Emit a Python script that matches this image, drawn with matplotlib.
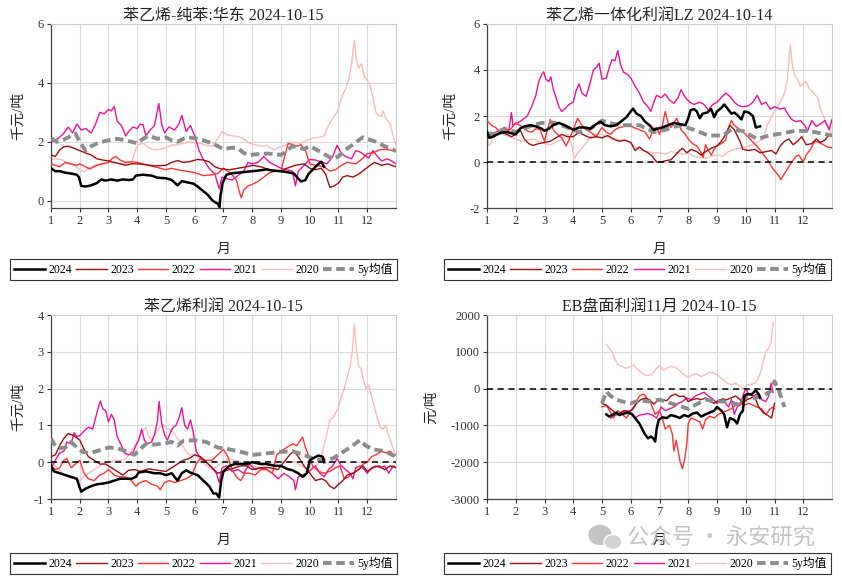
import matplotlib
matplotlib.use("Agg")
import matplotlib.pyplot as plt
from matplotlib.patches import Ellipse

plt.rcParams['font.family'] = ['Liberation Serif', 'Noto Sans CJK SC']
plt.rcParams['axes.unicode_minus'] = False

# ---------------- data (x = month position, y = value) ----------------
years = ["2024", "2023", "2022", "2021", "2020", "5y均值"]
month_ticks = list(range(1, 13))

# Panel 1: 苯乙烯-纯苯:华东 (千元/吨)
p1_2024 = [(1.0,1.10),(1.15,1.0),(1.3,1.0),(1.5,0.95),(1.7,0.92),(1.9,0.88),(1.97,0.8),(2.05,0.5),(2.2,0.48),(2.4,0.52),(2.6,0.6),(2.75,0.72),(2.9,0.68),(3.1,0.72),(3.3,0.68),(3.5,0.72),(3.7,0.7),(3.85,0.72),(3.95,0.85),(4.2,0.88),(4.5,0.85),(4.7,0.78),(5.0,0.76),(5.2,0.7),(5.4,0.52),(5.55,0.66),(5.75,0.62),(5.95,0.58),(6.1,0.48),(6.3,0.32),(6.45,0.2),(6.6,0.02),(6.7,-0.05),(6.8,-0.1),(6.86,-0.22),(6.9,0.2),(6.97,0.6),(7.1,0.88),(7.3,0.93),(7.5,0.95),(7.7,0.97),(8.0,1.0),(8.2,1.02),(8.5,1.06),(8.7,1.02),(9.0,1.0),(9.2,0.97),(9.45,0.92),(9.6,0.75),(9.7,0.65),(9.85,0.7),(9.95,0.9),(10.1,1.05),(10.25,1.2),(10.4,1.32),(10.5,1.15)]
p1_2023 = [(1.0,1.55),(1.15,1.5),(1.3,1.72),(1.45,1.83),(1.6,1.85),(1.8,1.78),(2.0,1.7),(2.2,1.62),(2.4,1.55),(2.6,1.42),(2.8,1.38),(3.0,1.35),(3.2,1.3),(3.4,1.25),(3.6,1.2),(3.8,1.25),(4.0,1.25),(4.3,1.22),(4.6,1.18),(5.0,1.2),(5.2,1.3),(5.4,1.36),(5.6,1.3),(5.8,1.32),(6.1,1.4),(6.3,1.38),(6.5,1.32),(6.7,1.15),(6.9,1.08),(7.2,1.05),(7.5,1.1),(7.8,1.15),(8.0,1.2),(8.3,1.15),(8.6,1.05),(9.0,1.0),(9.2,1.1),(9.5,1.2),(9.8,1.25),(10.0,1.1),(10.2,1.05),(10.4,1.1),(10.55,0.9),(10.7,0.45),(10.85,0.5),(11.0,0.6),(11.15,0.8),(11.3,0.85),(11.5,0.8),(11.7,0.9),(11.9,1.05),(12.1,1.2),(12.25,1.3),(12.5,1.2),(12.7,1.25),(12.85,1.2),(13.0,1.15)]
p1_2022 = [(1.0,1.25),(1.15,1.2),(1.3,1.15),(1.5,1.3),(1.7,1.25),(1.9,1.2),(2.0,1.25),(2.2,1.15),(2.35,1.08),(2.6,1.2),(2.8,1.25),(3.0,1.3),(3.15,1.45),(3.25,1.5),(3.4,1.38),(3.6,1.3),(3.8,1.32),(4.0,1.3),(4.3,1.22),(4.6,1.15),(4.8,1.1),(5.0,1.05),(5.2,1.1),(5.4,1.05),(5.7,1.0),(6.0,0.95),(6.3,0.85),(6.6,0.88),(6.8,0.92),(7.0,1.1),(7.15,1.0),(7.3,0.88),(7.45,0.7),(7.55,0.3),(7.62,0.1),(7.7,0.35),(7.85,0.5),(8.0,0.55),(8.2,0.65),(8.4,0.8),(8.6,0.95),(8.8,1.0),(9.0,1.0),(9.1,1.4),(9.25,1.95),(9.4,1.9),(9.55,1.85),(9.7,1.9),(9.85,1.7),(10.0,1.25),(10.2,1.2),(10.5,1.15),(10.7,1.0),(10.9,1.05),(11.1,1.2),(11.3,1.3),(11.6,1.25),(11.8,1.4),(12.0,1.6),(12.2,1.62),(12.4,1.72),(12.6,1.75),(12.8,1.72),(13.0,1.68)]
p1_2021 = [(1.0,2.0),(1.15,2.05),(1.3,2.15),(1.45,2.3),(1.6,2.5),(1.75,2.3),(1.9,2.6),(2.05,2.4),(2.2,2.45),(2.4,2.3),(2.55,2.6),(2.7,3.0),(2.85,2.95),(3.0,3.1),(3.1,3.05),(3.2,3.2),(3.3,2.7),(3.45,2.55),(3.6,2.2),(3.7,2.35),(3.85,2.5),(4.0,2.45),(4.1,2.6),(4.2,2.58),(4.3,2.2),(4.45,2.4),(4.6,2.55),(4.75,3.3),(4.85,2.6),(4.95,2.3),(5.1,2.5),(5.3,2.4),(5.45,2.6),(5.55,2.9),(5.7,2.35),(5.85,2.55),(6.0,2.2),(6.15,1.7),(6.3,1.4),(6.5,1.1),(6.7,0.9),(6.85,0.4),(6.95,0.8),(7.1,0.75),(7.3,0.7),(7.5,0.85),(7.7,1.0),(7.85,1.3),(8.0,1.25),(8.2,1.3),(8.4,1.5),(8.6,1.3),(8.8,1.2),(9.0,1.1),(9.2,1.05),(9.4,1.0),(9.5,0.5),(9.6,1.0),(9.8,1.2),(10.0,1.4),(10.2,1.38),(10.4,1.32),(10.6,1.25),(10.8,1.5),(10.95,1.88),(11.1,1.6),(11.25,1.5),(11.45,1.42),(11.6,1.7),(11.75,1.65),(11.9,1.55),(12.05,1.45),(12.2,1.7),(12.35,1.5),(12.5,1.35),(12.7,1.42),(12.85,1.35),(13.0,1.25)]
p1_2020 = [(1.0,1.4),(1.2,1.42),(1.4,1.38),(1.6,1.25),(1.8,1.2),(2.0,1.05),(2.15,0.98),(2.3,1.1),(2.5,1.2),(2.7,1.25),(3.0,1.3),(3.3,1.28),(3.6,1.25),(3.8,1.3),(3.95,1.75),(4.05,1.9),(4.2,1.95),(4.4,1.8),(4.6,1.72),(4.8,1.75),(5.0,1.8),(5.2,1.88),(5.4,1.9),(5.6,1.95),(5.8,2.0),(6.0,1.98),(6.2,1.95),(6.4,1.88),(6.6,1.85),(6.8,2.1),(6.95,2.35),(7.1,2.25),(7.3,2.2),(7.5,2.18),(7.7,2.1),(7.9,1.95),(8.1,1.9),(8.3,1.85),(8.5,1.88),(8.75,1.72),(8.9,1.8),(9.1,1.85),(9.3,1.95),(9.5,1.98),(9.7,1.95),(9.9,2.05),(10.1,2.12),(10.3,2.15),(10.5,2.2),(10.65,2.55),(10.8,2.8),(10.95,3.0),(11.05,3.3),(11.15,3.6),(11.25,3.8),(11.35,4.1),(11.45,4.6),(11.55,5.45),(11.62,4.8),(11.7,4.5),(11.8,4.65),(11.9,4.2),(12.0,4.1),(12.1,3.9),(12.2,3.5),(12.3,3.0),(12.4,2.9),(12.5,2.85),(12.55,3.05),(12.65,2.8),(12.8,2.6),(12.9,2.2),(13.0,1.9)]
p1_5y = [(1.0,2.12),(1.2,2.0),(1.4,2.05),(1.6,2.15),(1.85,2.28),(2.0,2.0),(2.2,1.7),(2.4,1.85),(2.7,1.98),(3.0,2.05),(3.3,2.1),(3.6,2.05),(3.8,2.0),(4.0,1.95),(4.2,2.1),(4.4,2.2),(4.7,2.1),(5.0,2.15),(5.2,2.05),(5.4,2.0),(5.7,2.15),(6.0,2.12),(6.3,2.05),(6.6,1.95),(6.8,1.85),(7.0,1.75),(7.3,1.8),(7.5,1.78),(7.7,1.62),(7.9,1.55),(8.2,1.58),(8.5,1.6),(8.8,1.58),(9.0,1.55),(9.2,1.7),(9.4,1.85),(9.6,1.8),(9.8,1.75),(10.0,1.85),(10.2,1.75),(10.5,1.58),(10.8,1.42),(11.0,1.5),(11.2,1.7),(11.5,1.9),(11.7,2.05),(11.85,2.15),(12.0,2.1),(12.3,2.0),(12.6,1.85),(12.8,1.78),(13.0,1.68)]

# Panel 2: 苯乙烯一体化利润LZ (千元/吨)
p2_2024 = [(1.0,1.3),(1.08,1.05),(1.2,1.1),(1.35,1.2),(1.5,1.28),(1.7,1.3),(1.85,1.25),(2.0,1.2),(2.15,1.45),(2.3,1.55),(2.5,1.6),(2.7,1.55),(2.9,1.45),(3.0,1.35),(3.15,1.45),(3.3,1.6),(3.5,1.7),(3.7,1.6),(3.85,1.5),(4.0,1.4),(4.2,1.5),(4.4,1.5),(4.6,1.45),(4.8,1.65),(4.95,1.75),(5.1,1.6),(5.3,1.55),(5.5,1.6),(5.7,1.8),(5.85,1.95),(6.0,2.2),(6.08,2.32),(6.2,2.1),(6.35,2.0),(6.5,1.75),(6.65,1.6),(6.8,1.4),(6.95,1.45),(7.1,1.5),(7.3,1.6),(7.5,1.7),(7.7,1.65),(7.9,1.6),(8.0,1.9),(8.08,2.25),(8.2,2.3),(8.3,2.2),(8.4,1.9),(8.5,2.1),(8.65,2.15),(8.8,2.3),(8.9,1.95),(9.0,2.2),(9.15,2.35),(9.25,2.5),(9.35,2.35),(9.5,2.1),(9.6,2.15),(9.7,2.05),(9.85,1.85),(9.95,2.2),(10.1,2.15),(10.25,2.0),(10.35,1.5),(10.5,1.55)]
p2_2023 = [(1.0,1.3),(1.15,1.1),(1.3,1.15),(1.5,1.3),(1.7,1.2),(1.85,1.1),(2.0,1.2),(2.15,1.4),(2.3,1.0),(2.45,0.8),(2.6,0.72),(2.8,0.8),(3.0,0.85),(3.2,0.9),(3.4,1.05),(3.6,1.2),(3.8,1.1),(4.0,1.1),(4.2,1.3),(4.4,1.15),(4.6,1.05),(4.8,1.1),(5.0,1.05),(5.2,1.15),(5.4,1.0),(5.6,0.9),(5.8,0.95),(6.0,0.85),(6.15,0.5),(6.3,0.65),(6.45,0.5),(6.6,0.4),(6.75,0.25),(6.9,0.0),(7.05,0.0),(7.2,0.05),(7.4,0.1),(7.55,0.3),(7.7,0.5),(7.8,0.6),(7.95,0.4),(8.1,0.55),(8.3,0.45),(8.45,0.3),(8.6,0.45),(8.8,0.6),(9.0,0.7),(9.15,0.9),(9.3,1.2),(9.45,1.6),(9.6,1.4),(9.7,1.15),(9.8,0.9),(9.9,0.55),(10.1,0.5),(10.3,0.55),(10.5,0.4),(10.7,0.45),(10.9,0.5),(11.05,0.35),(11.2,0.7),(11.35,0.9),(11.5,1.0),(11.65,0.75),(11.8,0.9),(11.95,1.1),(12.1,0.75),(12.3,0.8),(12.45,1.0),(12.6,0.85),(12.75,0.95),(12.85,1.1),(13.0,1.15)]
p2_2022 = [(1.0,1.8),(1.15,1.6),(1.3,1.5),(1.45,1.3),(1.6,1.45),(1.8,1.4),(2.0,1.7),(2.2,1.55),(2.4,1.35),(2.55,1.3),(2.7,1.45),(2.85,1.4),(3.0,0.9),(3.1,1.4),(3.2,1.85),(3.3,1.4),(3.45,1.2),(3.6,1.05),(3.75,0.7),(3.9,1.1),(4.0,1.4),(4.15,1.9),(4.3,1.6),(4.45,1.4),(4.6,1.3),(4.8,1.1),(5.0,1.5),(5.15,1.3),(5.3,1.2),(5.45,1.4),(5.6,1.5),(5.8,1.55),(5.95,1.6),(6.1,1.5),(6.3,1.4),(6.5,1.3),(6.65,1.0),(6.8,1.45),(6.9,1.5),(7.0,1.2),(7.1,1.6),(7.2,2.2),(7.3,1.7),(7.4,1.5),(7.5,1.7),(7.6,1.9),(7.75,1.4),(7.9,1.2),(8.0,1.0),(8.15,0.8),(8.3,0.7),(8.45,0.4),(8.52,0.2),(8.6,0.75),(8.7,0.5),(8.8,0.3),(8.9,0.55),(9.0,0.7),(9.15,0.8),(9.3,0.95),(9.4,1.5),(9.5,1.8),(9.6,1.6),(9.75,1.45),(9.9,1.3),(10.0,1.2),(10.15,1.0),(10.3,0.8),(10.45,0.6),(10.6,0.35),(10.75,0.1),(10.85,-0.1),(10.95,-0.3),(11.05,-0.45),(11.15,-0.6),(11.22,-0.77),(11.3,-0.6),(11.4,-0.4),(11.5,-0.2),(11.6,0.0),(11.75,0.25),(11.85,0.3),(11.95,0.1),(12.0,0.0),(12.1,0.3),(12.25,0.55),(12.4,0.9),(12.55,0.85),(12.7,0.75),(12.85,0.65),(13.0,0.62)]
p2_2021 = [(1.0,1.3),(1.2,1.25),(1.4,1.35),(1.6,1.5),(1.75,1.3),(1.85,2.15),(1.9,1.6),(2.05,1.7),(2.2,1.8),(2.4,2.0),(2.55,2.4),(2.7,2.9),(2.8,3.5),(2.9,3.8),(2.97,3.92),(3.05,3.6),(3.15,3.5),(3.22,3.7),(3.3,3.2),(3.4,2.8),(3.5,2.4),(3.6,2.2),(3.7,2.3),(3.85,2.5),(4.0,2.6),(4.1,3.1),(4.2,3.4),(4.3,3.0),(4.45,2.85),(4.6,3.5),(4.7,4.0),(4.8,4.1),(4.9,4.3),(5.0,3.6),(5.15,3.65),(5.25,4.1),(5.35,4.45),(5.45,4.4),(5.55,4.85),(5.65,4.2),(5.75,3.9),(5.9,3.8),(6.0,3.65),(6.15,3.3),(6.3,3.0),(6.45,2.6),(6.6,2.4),(6.7,2.2),(6.8,2.6),(6.9,2.9),(7.05,2.8),(7.2,2.95),(7.35,2.7),(7.5,2.55),(7.65,2.8),(7.75,3.15),(7.9,2.8),(8.05,2.6),(8.2,2.5),(8.4,2.6),(8.55,2.5),(8.7,2.25),(8.85,2.5),(9.0,2.6),(9.15,2.8),(9.3,3.0),(9.45,2.85),(9.6,2.6),(9.75,2.45),(9.9,2.4),(10.1,2.45),(10.25,2.6),(10.4,2.9),(10.55,2.5),(10.7,2.6),(10.85,2.3),(11.0,2.4),(11.2,2.3),(11.35,2.35),(11.45,2.1),(11.6,1.85),(11.75,1.75),(11.9,1.8),(12.05,1.6),(12.15,1.35),(12.3,1.8),(12.45,1.55),(12.6,1.65),(12.75,1.8),(12.9,1.4),(13.0,1.85)]
p2_2020 = [(1.0,0.95),(1.08,0.7),(1.2,1.0),(1.35,1.2),(1.55,1.2),(1.8,1.1),(2.0,1.0),(2.2,0.9),(2.4,0.95),(2.6,1.0),(2.8,0.9),(3.0,0.8),(3.2,0.75),(3.4,0.85),(3.6,1.0),(3.8,1.2),(3.95,0.7),(4.05,0.15),(4.15,0.4),(4.3,0.6),(4.45,0.85),(4.6,1.1),(4.8,1.2),(5.0,1.2),(5.2,1.1),(5.4,1.0),(5.6,0.95),(5.8,0.95),(6.0,0.85),(6.2,0.6),(6.4,0.5),(6.6,0.45),(6.8,0.4),(7.0,0.4),(7.2,0.35),(7.4,0.45),(7.6,0.4),(7.8,0.35),(8.0,0.4),(8.2,0.25),(8.4,0.2),(8.6,0.15),(8.8,0.25),(9.0,0.3),(9.2,0.25),(9.4,0.45),(9.6,0.55),(9.8,0.6),(10.0,0.65),(10.2,0.75),(10.4,0.85),(10.6,1.0),(10.75,1.6),(10.9,2.0),(11.05,2.3),(11.2,2.6),(11.35,3.0),(11.45,3.6),(11.55,5.1),(11.62,4.2),(11.7,3.8),(11.8,3.6),(11.9,3.3),(12.0,3.4),(12.1,3.5),(12.2,3.2),(12.35,3.0),(12.5,2.8),(12.6,2.3),(12.7,2.0),(12.8,1.7),(12.9,1.5),(13.0,1.2)]
p2_5y = [(1.0,1.25),(1.3,1.2),(1.6,1.45),(2.0,1.3),(2.3,1.45),(2.6,1.6),(2.9,1.7),(3.3,1.72),(3.7,1.55),(4.0,1.4),(4.2,1.3),(4.6,1.45),(5.0,1.8),(5.4,1.65),(5.8,1.6),(6.3,1.6),(6.8,1.3),(7.2,1.4),(7.7,1.6),(8.2,1.4),(8.7,1.15),(9.2,1.15),(9.5,1.4),(9.9,1.35),(10.4,1.0),(10.8,1.15),(11.3,1.25),(11.7,1.35),(12.2,1.35),(12.6,1.25),(13.0,1.15)]

# Panel 3: 苯乙烯利润 (千元/吨)
p3_2024 = [(1.0,-0.1),(1.1,-0.25),(1.3,-0.3),(1.5,-0.35),(1.7,-0.4),(1.9,-0.45),(1.98,-0.65),(2.05,-0.8),(2.2,-0.72),(2.4,-0.65),(2.6,-0.6),(2.8,-0.58),(3.0,-0.55),(3.2,-0.5),(3.4,-0.45),(3.6,-0.45),(3.8,-0.45),(3.95,-0.4),(4.05,-0.28),(4.3,-0.25),(4.6,-0.3),(4.8,-0.3),(5.0,-0.35),(5.2,-0.3),(5.4,-0.5),(5.55,-0.3),(5.7,-0.22),(5.9,-0.3),(6.1,-0.35),(6.3,-0.5),(6.5,-0.65),(6.65,-0.85),(6.75,-0.85),(6.85,-0.96),(6.92,-0.5),(7.0,-0.25),(7.2,-0.1),(7.4,-0.05),(7.6,-0.05),(7.8,-0.05),(8.0,0.0),(8.3,-0.05),(8.5,-0.05),(8.8,-0.1),(9.0,-0.1),(9.2,-0.18),(9.4,-0.22),(9.6,-0.3),(9.75,-0.4),(9.9,-0.3),(10.0,0.05),(10.15,0.12),(10.3,0.18),(10.45,0.15),(10.5,0.0)]
p3_2023 = [(1.0,0.15),(1.15,0.2),(1.3,0.45),(1.45,0.65),(1.6,0.78),(1.8,0.72),(2.0,0.6),(2.15,0.35),(2.3,0.15),(2.5,0.05),(2.7,-0.05),(2.9,-0.05),(3.1,-0.15),(3.3,-0.25),(3.5,-0.35),(3.7,-0.22),(3.9,-0.2),(4.1,-0.25),(4.4,-0.18),(4.7,-0.22),(5.0,-0.25),(5.2,-0.15),(5.4,-0.05),(5.6,0.05),(5.8,0.1),(6.0,0.2),(6.2,0.15),(6.4,0.0),(6.6,-0.15),(6.8,-0.3),(7.0,-0.25),(7.2,-0.2),(7.4,-0.15),(7.6,-0.1),(7.8,-0.1),(8.0,-0.2),(8.3,-0.15),(8.6,-0.15),(8.9,-0.2),(9.1,0.0),(9.3,0.2),(9.45,0.3),(9.6,0.15),(9.8,-0.1),(10.0,-0.3),(10.2,-0.5),(10.4,-0.45),(10.55,-0.5),(10.7,-0.65),(10.85,-0.72),(11.0,-0.6),(11.15,-0.5),(11.3,-0.35),(11.5,-0.3),(11.7,-0.2),(11.85,-0.1),(12.0,-0.25),(12.2,-0.15),(12.4,-0.1),(12.6,-0.2),(12.8,-0.1),(13.0,-0.15)]
p3_2022 = [(1.0,-0.1),(1.15,-0.2),(1.3,-0.15),(1.45,0.05),(1.55,0.1),(1.7,-0.15),(1.85,-0.05),(2.0,0.05),(2.15,-0.3),(2.3,-0.45),(2.5,-0.5),(2.7,-0.35),(2.85,-0.3),(3.0,-0.2),(3.2,-0.35),(3.4,-0.4),(3.6,-0.4),(3.8,-0.5),(3.95,-0.65),(4.1,-0.55),(4.3,-0.5),(4.5,-0.6),(4.7,-0.65),(4.8,-0.75),(4.95,-0.55),(5.1,-0.5),(5.3,-0.55),(5.5,-0.5),(5.7,-0.45),(5.9,-0.35),(6.05,-0.05),(6.2,0.1),(6.4,0.05),(6.6,0.05),(6.8,0.2),(7.0,0.35),(7.15,0.15),(7.3,-0.2),(7.45,-0.4),(7.6,-0.5),(7.75,-0.3),(7.9,-0.3),(8.1,-0.35),(8.3,-0.2),(8.5,-0.2),(8.7,-0.3),(8.85,0.2),(9.0,0.3),(9.2,0.4),(9.4,0.5),(9.55,0.45),(9.75,0.68),(9.85,0.4),(9.95,0.2),(10.1,-0.1),(10.3,-0.25),(10.5,-0.3),(10.7,-0.25),(10.9,-0.15),(11.05,-0.1),(11.2,-0.45),(11.35,-0.4),(11.5,-0.3),(11.7,-0.2),(11.85,-0.05),(12.0,0.0),(12.15,0.15),(12.3,0.2),(12.5,0.3),(12.65,0.25),(12.8,0.3),(12.9,0.2),(13.0,0.2)]
p3_2021 = [(1.05,-0.1),(1.15,0.05),(1.3,0.25),(1.45,0.3),(1.55,0.55),(1.7,0.5),(1.8,0.8),(1.9,0.7),(2.0,0.72),(2.15,0.85),(2.3,0.95),(2.45,0.9),(2.55,1.2),(2.65,1.5),(2.72,1.66),(2.8,1.45),(2.9,1.4),(3.0,1.1),(3.1,1.3),(3.2,1.15),(3.3,0.7),(3.45,0.45),(3.55,0.25),(3.7,0.2),(3.85,0.25),(3.95,0.45),(4.05,0.6),(4.15,0.9),(4.25,0.6),(4.35,0.5),(4.5,0.55),(4.6,0.75),(4.7,1.1),(4.76,1.65),(4.85,1.05),(4.95,0.75),(5.05,0.6),(5.15,0.8),(5.25,0.95),(5.35,1.0),(5.45,1.2),(5.55,1.48),(5.65,1.0),(5.75,0.9),(5.85,1.15),(5.95,0.8),(6.05,0.3),(6.2,0.1),(6.4,0.0),(6.6,-0.15),(6.75,-0.3),(6.85,-0.55),(6.95,-0.15),(7.1,-0.1),(7.3,-0.25),(7.5,-0.2),(7.7,-0.3),(7.9,-0.05),(8.1,-0.2),(8.3,-0.15),(8.5,-0.2),(8.7,-0.3),(8.9,-0.45),(9.1,-0.3),(9.3,-0.4),(9.45,-0.5),(9.5,-0.75),(9.6,-0.4),(9.75,-0.35),(9.9,-0.3),(10.05,-0.2),(10.2,-0.1),(10.35,-0.3),(10.5,-0.4),(10.65,-0.2),(10.8,-0.1),(10.95,0.1),(11.1,-0.1),(11.25,-0.2),(11.4,-0.3),(11.5,-0.45),(11.6,-0.15),(11.75,-0.1),(11.9,-0.2),(12.0,-0.3),(12.15,-0.15),(12.3,-0.1),(12.45,-0.15),(12.6,-0.1),(12.75,-0.3),(12.9,-0.1),(13.0,-0.15)]
p3_2020 = [(1.0,0.0),(1.2,-0.15),(1.4,-0.3),(1.6,-0.4),(1.8,-0.45),(2.0,-0.5),(2.2,-0.35),(2.4,-0.25),(2.6,-0.15),(2.8,-0.05),(3.0,0.0),(3.2,0.05),(3.4,0.05),(3.6,0.1),(3.8,0.3),(4.0,0.55),(4.15,0.8),(4.3,0.95),(4.4,0.7),(4.5,0.6),(4.65,0.8),(4.8,0.95),(4.9,1.02),(5.05,0.9),(5.2,0.85),(5.35,0.7),(5.5,0.55),(5.65,0.35),(5.8,0.2),(6.0,0.2),(6.2,0.05),(6.4,-0.1),(6.6,-0.2),(6.8,-0.1),(7.0,0.0),(7.2,0.1),(7.4,0.05),(7.6,0.0),(7.8,-0.1),(8.0,-0.1),(8.3,-0.15),(8.6,-0.1),(8.9,0.0),(9.2,0.0),(9.5,0.0),(9.8,-0.15),(10.1,-0.15),(10.3,-0.05),(10.45,0.3),(10.6,0.8),(10.7,1.15),(10.85,1.25),(11.0,1.5),(11.1,1.8),(11.2,2.0),(11.3,2.3),(11.4,2.6),(11.48,3.0),(11.55,3.75),(11.62,3.1),(11.7,2.6),(11.78,2.55),(11.85,2.3),(11.95,2.0),(12.05,2.1),(12.15,1.8),(12.25,1.5),(12.35,1.2),(12.45,0.95),(12.55,0.9),(12.65,1.0),(12.75,0.7),(12.85,0.5),(12.95,0.25),(13.0,0.2)]
p3_5y = [(1.0,0.65),(1.1,0.5),(1.25,0.38),(1.5,0.4),(1.7,0.55),(1.9,0.4),(2.1,0.28),(2.3,0.25),(2.6,0.3),(3.0,0.4),(3.3,0.38),(3.6,0.3),(3.9,0.2),(4.1,0.35),(4.3,0.5),(4.6,0.48),(5.0,0.52),(5.2,0.55),(5.4,0.45),(5.6,0.58),(6.0,0.6),(6.4,0.55),(6.8,0.4),(7.2,0.35),(7.6,0.28),(8.0,0.2),(8.3,0.22),(8.6,0.25),(9.0,0.28),(9.4,0.3),(9.8,0.2),(10.1,0.1),(10.4,0.05),(10.8,0.1),(11.1,0.25),(11.4,0.4),(11.75,0.6),(11.95,0.45),(12.2,0.35),(12.6,0.3),(13.0,0.15)]

# Panel 4: EB盘面利润11月 (元/吨)
p4_2024 = [(5.15,-700),(5.25,-760),(5.4,-700),(5.5,-650),(5.6,-720),(5.75,-680),(5.9,-650),(6.05,-700),(6.15,-800),(6.3,-950),(6.4,-1100),(6.5,-1250),(6.6,-1350),(6.7,-1300),(6.78,-1350),(6.85,-1440),(6.9,-1100),(6.97,-850),(7.1,-780),(7.25,-800),(7.4,-720),(7.55,-750),(7.7,-800),(7.85,-720),(8.0,-760),(8.15,-680),(8.3,-650),(8.45,-760),(8.6,-700),(8.75,-650),(8.9,-600),(9.0,-500),(9.15,-600),(9.25,-700),(9.35,-1050),(9.45,-800),(9.6,-850),(9.7,-950),(9.8,-700),(9.9,-600),(9.95,-200),(10.05,-150),(10.2,-160),(10.35,-50),(10.45,-150),(10.5,-250)]
p4_2023 = [(5.0,-400),(5.15,-450),(5.3,-550),(5.45,-650),(5.6,-700),(5.75,-600),(5.9,-620),(6.05,-580),(6.2,-400),(6.35,-300),(6.5,-260),(6.65,-300),(6.8,-420),(6.95,-320),(7.1,-300),(7.25,-330),(7.4,-200),(7.55,-150),(7.7,-220),(7.85,-200),(8.0,-350),(8.15,-300),(8.3,-270),(8.45,-300),(8.6,-250),(8.75,-350),(8.9,-400),(9.05,-320),(9.2,-280),(9.35,-300),(9.5,-250),(9.65,-200),(9.8,-300),(9.9,-400),(10.05,-300),(10.2,-250),(10.3,-200),(10.45,-500),(10.6,-650),(10.75,-720),(10.9,-800),(10.95,-600),(11.0,-400)]
p4_2022 = [(5.0,-500),(5.15,-450),(5.3,-650),(5.4,-800),(5.55,-600),(5.7,-700),(5.85,-800),(6.0,-600),(6.15,-450),(6.3,-200),(6.45,-150),(6.55,-250),(6.7,-400),(6.85,-700),(7.0,-600),(7.1,-800),(7.2,-1100),(7.35,-1000),(7.45,-1250),(7.5,-1700),(7.58,-1400),(7.65,-1700),(7.72,-2000),(7.8,-2180),(7.88,-1900),(7.95,-1500),(8.0,-950),(8.1,-800),(8.25,-850),(8.4,-900),(8.5,-1100),(8.6,-850),(8.75,-750),(8.9,-800),(9.05,-700),(9.2,-650),(9.35,-600),(9.5,-550),(9.65,-450),(9.8,-400),(9.95,-450),(10.1,-400),(10.25,-450),(10.4,-500),(10.55,-550),(10.7,-700),(10.85,-550),(10.95,-500),(11.0,-550)]
p4_2021 = [(5.3,-800),(5.4,-750),(5.55,-700),(5.7,-620),(5.85,-600),(6.0,-650),(6.15,-800),(6.3,-720),(6.45,-700),(6.6,-680),(6.75,-720),(6.9,-800),(7.05,-500),(7.2,-600),(7.35,-550),(7.5,-500),(7.65,-400),(7.8,-350),(7.95,-250),(8.1,-300),(8.25,-200),(8.4,-150),(8.55,-100),(8.7,-200),(8.85,-280),(9.0,-400),(9.15,-300),(9.3,-400),(9.4,-500),(9.5,-300),(9.6,-700),(9.7,-500),(9.8,-450),(9.9,-200),(10.0,0),(10.1,-150),(10.25,-200),(10.4,-150),(10.55,-300),(10.7,-350),(10.8,-200),(10.88,150),(10.95,-100)]
p4_2020 = [(5.15,1200),(5.25,1100),(5.35,1000),(5.45,800),(5.55,650),(5.7,600),(5.85,550),(6.0,600),(6.1,650),(6.2,550),(6.3,480),(6.45,380),(6.6,350),(6.75,400),(6.9,550),(7.0,620),(7.15,500),(7.3,580),(7.45,600),(7.6,550),(7.75,450),(7.9,350),(8.0,300),(8.15,380),(8.3,400),(8.45,330),(8.6,380),(8.75,450),(8.9,420),(9.05,350),(9.2,250),(9.35,150),(9.5,100),(9.65,150),(9.8,50),(9.9,0),(10.05,100),(10.2,120),(10.35,150),(10.5,400),(10.6,700),(10.7,1000),(10.8,1100),(10.88,1250),(10.95,1800)]
p4_5y = [(5.0,-400),(5.15,-80),(5.3,-200),(5.5,-300),(5.7,-350),(6.0,-400),(6.3,-320),(6.6,-350),(7.0,-300),(7.4,-400),(7.8,-500),(8.0,-550),(8.3,-420),(8.6,-300),(9.0,-350),(9.4,-350),(9.8,-450),(10.0,-220),(10.3,-250),(10.6,-200),(10.85,-80),(11.0,200),(11.15,-50),(11.3,-400),(11.35,-500)]

titles = ["苯乙烯-纯苯:华东 2024-10-15", "苯乙烯一体化利润LZ 2024-10-14",
          "苯乙烯利润 2024-10-15", "EB盘面利润11月 2024-10-15"]
ylabels = ["千元/吨", "千元/吨", "千元/吨", "元/吨"]
yticks_list = [[0, 2, 4, 6], [-2, 0, 2, 4, 6], [-1, 0, 1, 2, 3, 4],
               [-3000, -2000, -1000, 0, 1000, 2000]]
ylims = [(-0.25, 6), (-2, 6), (-1, 4), (-3000, 2000)]
zero_lines = [False, True, True, True]
panels = [
    [p1_2024, p1_2023, p1_2022, p1_2021, p1_2020, p1_5y],
    [p2_2024, p2_2023, p2_2022, p2_2021, p2_2020, p2_5y],
    [p3_2024, p3_2023, p3_2022, p3_2021, p3_2020, p3_5y],
    [p4_2024, p4_2023, p4_2022, p4_2021, p4_2020, p4_5y],
]

# ---------------- styles ----------------
colors = ["#000000", "#9B1111", "#FF3333", "#EE1199", "#F7BCBC", "#8C8C8C"]
widths = [1.8, 1.0, 1.0, 1.0, 1.0, 2.8]
styles = ["-", "-", "-", "-", "-", (0, (2.2, 1.2))]
zorders = [8, 5, 4, 3, 2, 6]

W, H = 842, 577
fig = plt.figure(figsize=(W / 100, H / 100), dpi=100)

ax_px = [(51, 24), (487, 24), (51, 315), (487, 315)]   # left, top in px
aw, ah = 345, 184
leg_px = [(10, 257), (444, 257), (10, 551), (444, 551)]
leg_w, leg_h = 387, 23
ylab_x = [-0.075, -0.087, -0.075, -0.142]

for i in range(4):
    lx, ty = ax_px[i]
    ax = fig.add_axes([lx / W, 1 - (ty + ah) / H, aw / W, ah / H])
    handles = []
    for j, data in enumerate(panels[i]):
        xs = [p[0] for p in data]
        ys = [p[1] for p in data]
        h, = ax.plot(xs, ys, color=colors[j], lw=widths[j], ls=styles[j],
                     zorder=zorders[j], label=years[j])
        handles.append(h)
    if zero_lines[i]:
        ax.axhline(0, color="black", lw=1.1, ls=(0, (4, 3)), zorder=9)
    ax.set_xlim(1, 13)
    ax.set_ylim(*ylims[i])
    ax.set_xticks(month_ticks)
    ax.set_xticklabels([str(m) for m in month_ticks])
    ax.set_yticks(yticks_list[i])
    ax.grid(True, color="#DADADA", lw=0.8, zorder=0)
    ax.set_axisbelow(True)
    for s in ["top", "right"]:
        ax.spines[s].set_color("#CCCCCC")
        ax.spines[s].set_linewidth(0.8)
    for s in ["left", "bottom"]:
        ax.spines[s].set_color("#444444")
        ax.spines[s].set_linewidth(0.9)
    ax.tick_params(axis="both", labelsize=9, colors="#333333", length=3,
                   width=0.8, direction="out", pad=2)
    ax.set_title(titles[i], fontsize=11.5, pad=3, color="#222222")
    ax.set_xlabel("月", fontsize=10, color="#222222")
    ax.xaxis.set_label_coords(0.5, -0.19)
    ax.set_ylabel(ylabels[i], fontsize=10.5, color="#222222")
    ax.yaxis.set_label_coords(ylab_x[i], 0.5)

    gx, gy = leg_px[i]
    leg = fig.legend(handles=handles, loc="lower left",
                     bbox_to_anchor=(gx / W, 1 - (gy + leg_h) / H, leg_w / W, leg_h / H),
                     mode="expand", ncol=6, fontsize=8.5, frameon=True,
                     fancybox=False, edgecolor="#333333", framealpha=1,
                     handlelength=2.6, handletextpad=0.3, columnspacing=0.4,
                     borderpad=0.35, borderaxespad=0)
    leg.get_frame().set_linewidth(0.8)

# watermark (icon + text)
wm_color = "#C4C4C4"
fig.add_artist(Ellipse((600 / W, 1 - 535 / H), 22 / W, 19 / H, color=wm_color,
                       transform=fig.transFigure, zorder=20))
fig.add_artist(Ellipse((613 / W, 1 - 542 / H), 18 / W, 15 / H, color="#D4D4D4",
                       ec="white", lw=1, transform=fig.transFigure, zorder=21))
fig.text(627 / W, 1 - 538 / H, "公众号 · 永安研究", fontsize=16, color=wm_color,
         family=["Noto Sans CJK SC", "DejaVu Sans"], ha="left", va="center",
         zorder=20)

fig.savefig("out.png", dpi=100)
